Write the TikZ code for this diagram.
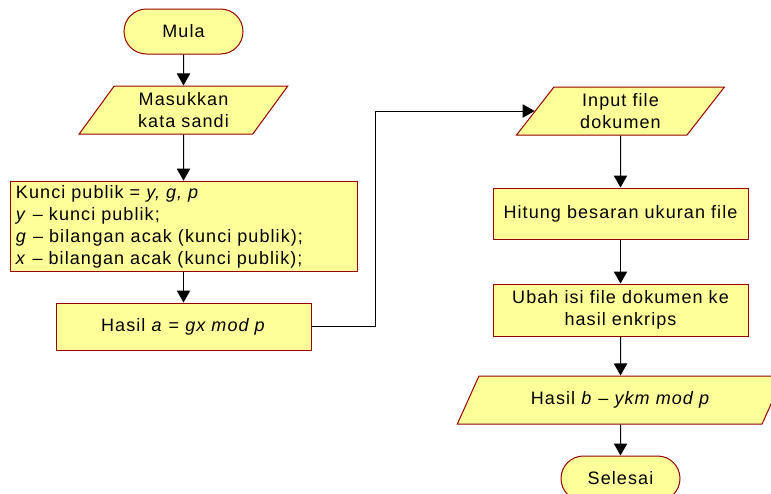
\documentclass[tikz,border=0pt]{standalone}
\usepackage{fontspec}
\setmainfont[LetterSpace=6]{Liberation Sans}
\usetikzlibrary{shapes.geometric,shapes.misc,arrows.meta}

\definecolor{boxfill}{RGB}{255,255,153}
\definecolor{boxline}{RGB}{153,0,0}

\tikzset{every picture/.style={line width=0.75pt}}
\tikzset{
  base/.style={draw=boxline, fill=boxfill, line width=0.75pt, inner sep=3pt,
    font=\fontsize{13.5}{16.5}\selectfont, align=center},
  terminal/.style={base, rounded rectangle, minimum width=95.25pt, minimum height=33.75pt},
  process/.style={base, rectangle},
  inout/.style={base, trapezium, trapezium left angle=60, trapezium right angle=120,
    trapezium stretches=true},
  arr/.style={-{Triangle[length=9pt,width=10pt]}, line width=0.75pt}
}

\begin{document}
\begin{tikzpicture}[x=0.75pt,y=0.75pt,yscale=-1,xscale=1]
%set diagram size 771 x 493
\clip (0,0) rectangle (771,493);
\useasboundingbox (0,0) rectangle (771,493);

%Shape: Terminator [id:mula]
\node [terminal] (mula) at (183.5,31.5) {Mula};
%Shape: Data [id:sandi]
\node [inout, minimum width=156.75pt, minimum height=36pt] (sandi) at (183.5,110) {Masukkan\\kata sandi};
%Shape: Rectangle [id:kunci]
\node [process, minimum height=66.75pt, text width=251.25pt, inner xsep=4.5pt, align=left] (kunci) at (183.5,226.5)
  {Kunci publik = \textit{y, g, p}\\
   \textit{y} – kunci publik;\\
   \textit{g} – bilangan acak (kunci publik);\\
   \textit{x} – bilangan acak (kunci publik);};
%Shape: Rectangle [id:hasila]
\node [process, minimum width=191.25pt, minimum height=35.25pt] (hasila) at (183.5,326.5) {Hasil \textit{a} = \textit{gx mod p}};

%Shape: Data [id:input]
\node [inout, minimum width=156pt, minimum height=36pt] (input) at (620.5,111) {Input file\\dokumen};
%Shape: Rectangle [id:hitung]
\node [process, minimum width=191.25pt, minimum height=38.25pt] (hitung) at (620.5,213.5) {Hitung besaran ukuran file};
%Shape: Rectangle [id:ubah]
\node [process, minimum width=191.25pt, minimum height=39pt] (ubah) at (620.5,310) {Ubah isi file dokumen ke\\hasil enkrips};
%Shape: Data [id:hasilb]
\node [inout, minimum width=245.25pt, minimum height=36pt] (hasilb) at (620.5,400) {Hasil \textit{b} – \textit{ykm mod p}};
%Shape: Terminator [id:selesai]
\node [terminal] (selesai) at (620.5,478.5) {Selesai};

%Connectors
\draw [arr] (mula) -- (sandi);
\draw [arr] (sandi) -- (kunci);
\draw [arr] (kunci) -- (hasila);
\draw [arr] (hasila.east) -- ++(64,0) |- (input.west);
\draw [arr] (input) -- (hitung);
\draw [arr] (hitung) -- (ubah);
\draw [arr] (ubah) -- (hasilb);
\draw [arr] (hasilb) -- (selesai);

\end{tikzpicture}
\end{document}
